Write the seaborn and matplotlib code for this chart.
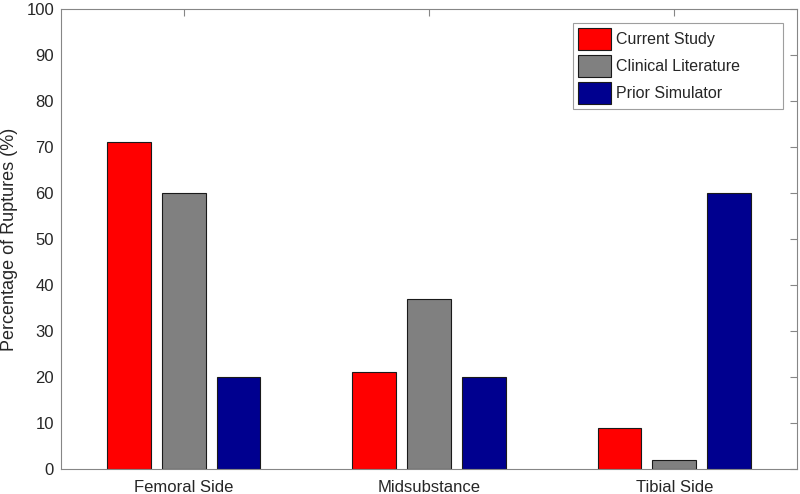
import numpy as np
import pandas as pd
import matplotlib
matplotlib.use("Agg")
import matplotlib.pyplot as plt
import seaborn as sns

sns.set_style("white")
plt.rcParams['font.family'] = ['Liberation Sans', 'DejaVu Sans']

# data
sitios = ["Femoral Side", "Midsubstance", "Tibial Side"]
series = ["Current Study", "Clinical Literature", "Prior Simulator"]
current_study = [71, 21, 9]
clinical_literature = [60, 37, 2]
prior_simulator = [20, 20, 60]
colores = ["#ff0000", "#808080", "#00008f"]

df = pd.DataFrame({
    "sitio": sitios * 3,
    "serie": [series[0]] * 3 + [series[1]] * 3 + [series[2]] * 3,
    "valor": current_study + clinical_literature + prior_simulator,
})

fig = plt.figure(figsize=(8, 4.94), dpi=100)
ax = fig.add_axes([0.07625, 0.0506, 0.92, 0.931])

sns.barplot(data=df, x="sitio", y="valor", hue="serie", order=sitios,
            hue_order=series, palette=colores, width=0.67, gap=0.2,
            edgecolor="#1a1a1a", linewidth=0.8, saturation=1, ax=ax)

ax.set_xlim(-0.5, 2.5)
ax.set_ylim(0, 100)
ax.set_yticks(np.arange(0, 101, 10))
ax.set_xlabel("")
ax.set_ylabel("Percentage of Ruptures (%)", fontsize=13, color="#262626", labelpad=6)

gris = "#868686"
for s in ax.spines.values():
    s.set_visible(True)
    s.set_color(gris)
    s.set_linewidth(0.8)
ax.tick_params(direction="in", length=5, color=gris, width=0.8,
               top=True, right=True, labelsize=12, labelcolor="#262626")
ax.tick_params(axis="x", pad=8)
ax.tick_params(axis="y", pad=5)

# leyenda ancha como en matlab
leg = ax.legend(loc="upper left", bbox_to_anchor=(0.6957, 0.5, 0.2853, 0.4703),
                mode="expand", borderaxespad=0, fontsize=11.5, frameon=True,
                fancybox=False, edgecolor=gris, handlelength=2.1,
                handleheight=1.75, labelspacing=0.32, borderpad=0.3,
                handletextpad=0.3)
leg.get_frame().set_linewidth(0.8)

fig.savefig("out.png", dpi=100)
